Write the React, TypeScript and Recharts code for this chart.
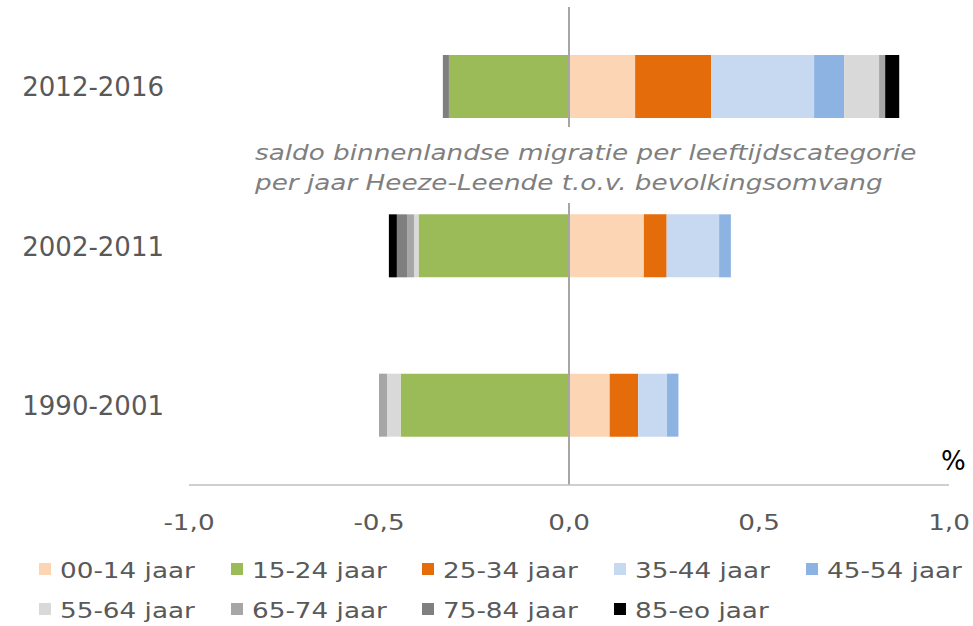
import React from "react";
import { BarChart, Bar, XAxis, YAxis, ReferenceLine } from "recharts";

// periods, top to bottom
const periods = ["2012-2016", "2002-2011", "1990-2001"];

// saldo per age group, % of population per year
const age0014 = [0.174, 0.197, 0.107];
const age1524 = [-0.316, -0.396, -0.443];
const age2534 = [0.2, 0.06, 0.075];
const age3544 = [0.271, 0.138, 0.076];
const age4554 = [0.079, 0.031, 0.03];
const age5564 = [0.092, -0.012, -0.036];
const age6574 = [0.016, -0.017, -0.021];
const age7584 = [-0.016, -0.028, 0];
const age85eo = [0.037, -0.021, 0];

const seriesNames = [
  "00-14 jaar",
  "15-24 jaar",
  "25-34 jaar",
  "35-44 jaar",
  "45-54 jaar",
  "55-64 jaar",
  "65-74 jaar",
  "75-84 jaar",
  "85-eo jaar",
];
const seriesValues = [age0014, age1524, age2534, age3544, age4554, age5564, age6574, age7584, age85eo];
const seriesColors = ["#fcd5b5", "#9bbb59", "#e46c0a", "#c6d9f1", "#8db3e2", "#d9d9d9", "#a6a6a6", "#7f7f7f", "#000000"];

const xTicks = [-1, -0.5, 0, 0.5, 1];

const data = periods.map((period, i) => {
  const row: Record<string, string | number> = { period };
  seriesNames.forEach((name, s) => {
    row[name] = seriesValues[s][i];
  });
  return row;
});

const FONT = "'DejaVu Sans', Verdana, sans-serif";
const STRETCH = 1.25; // source text is a bit wider than the font

const YTick = (props: any) => {
  const { y, payload } = props;
  return (
    <text x={164} y={y + 9.5} textAnchor="end" fill="#595959" fontSize={26} fontFamily={FONT}>
      {payload.value}
    </text>
  );
};

const XTick = (props: any) => {
  const { x, payload } = props;
  const label = payload.value.toFixed(1).replace(".", ",");
  return (
    <g transform={`translate(${x},530) scale(${STRETCH},1)`}>
      <text x={0} y={0} textAnchor="middle" fill="#595959" fontSize={21} fontFamily={FONT}>
        {label}
      </text>
    </g>
  );
};

const legendCols = [39, 231, 422, 614, 806];

const App: React.FC = () => {
  return (
    <div style={{ position: "absolute", left: 0, top: 0, width: 973, height: 626, background: "#fff" }}>
      <BarChart
        width={973}
        height={626}
        data={data}
        layout="vertical"
        stackOffset="sign"
        barSize={63}
        margin={{ top: 7, right: 24, left: 0, bottom: 105 }}
      >
        <XAxis
          type="number"
          domain={[-1, 1]}
          ticks={xTicks}
          axisLine={{ stroke: "#bfbfbf", strokeWidth: 1.5 }}
          tickLine={false}
          tick={<XTick />}
          height={36}
        />
        <YAxis
          type="category"
          dataKey="period"
          width={189}
          axisLine={false}
          tickLine={false}
          tick={<YTick />}
        />
        {seriesNames.map((name, i) => (
          <Bar
            key={name}
            dataKey={name}
            stackId="a"
            fill={seriesColors[i]}
            isAnimationActive={false}
          />
        ))}
        <ReferenceLine x={0} stroke="#a6a6a6" strokeWidth={2} />
      </BarChart>

      {/* % unit label */}
      <div
        style={{
          position: "absolute",
          left: 941,
          top: 446,
          fontFamily: FONT,
          fontSize: 26,
          lineHeight: "30px",
          color: "#000",
        }}
      >
        %
      </div>

      {/* title box, white background covers the zero line */}
      <div
        style={{
          position: "absolute",
          left: 248,
          top: 127,
          width: 680,
          height: 76,
          background: "#fff",
          paddingTop: 11,
          boxSizing: "border-box",
          fontFamily: FONT,
          fontStyle: "italic",
          fontSize: 21,
          lineHeight: "30px",
          color: "#7f7f7f",
        }}
      >
        <div style={{ marginLeft: 7, transform: `scaleX(${STRETCH})`, transformOrigin: "left", whiteSpace: "nowrap" }}>
          saldo binnenlandse migratie per leeftijdscategorie
        </div>
        <div style={{ marginLeft: 7, transform: `scaleX(${STRETCH})`, transformOrigin: "left", whiteSpace: "nowrap" }}>
          per jaar Heeze-Leende t.o.v. bevolkingsomvang
        </div>
      </div>

      {/* legend */}
      {seriesNames.map((name, i) => {
        const col = i % 5;
        const row = Math.floor(i / 5);
        const left = legendCols[col];
        const top = 556 + row * 40;
        return (
          <div key={name} style={{ position: "absolute", left, top, height: 30 }}>
            <div
              style={{
                position: "absolute",
                left: 0,
                top: 7,
                width: 12,
                height: 12,
                background: seriesColors[i],
              }}
            />
            <div
              style={{
                position: "absolute",
                left: 21,
                top: 0,
                fontFamily: FONT,
                fontSize: 21,
                lineHeight: "30px",
                color: "#595959",
                whiteSpace: "nowrap",
                transform: `scaleX(${STRETCH})`,
                transformOrigin: "left",
              }}
            >
              {name}
            </div>
          </div>
        );
      })}
    </div>
  );
};

export default App;
